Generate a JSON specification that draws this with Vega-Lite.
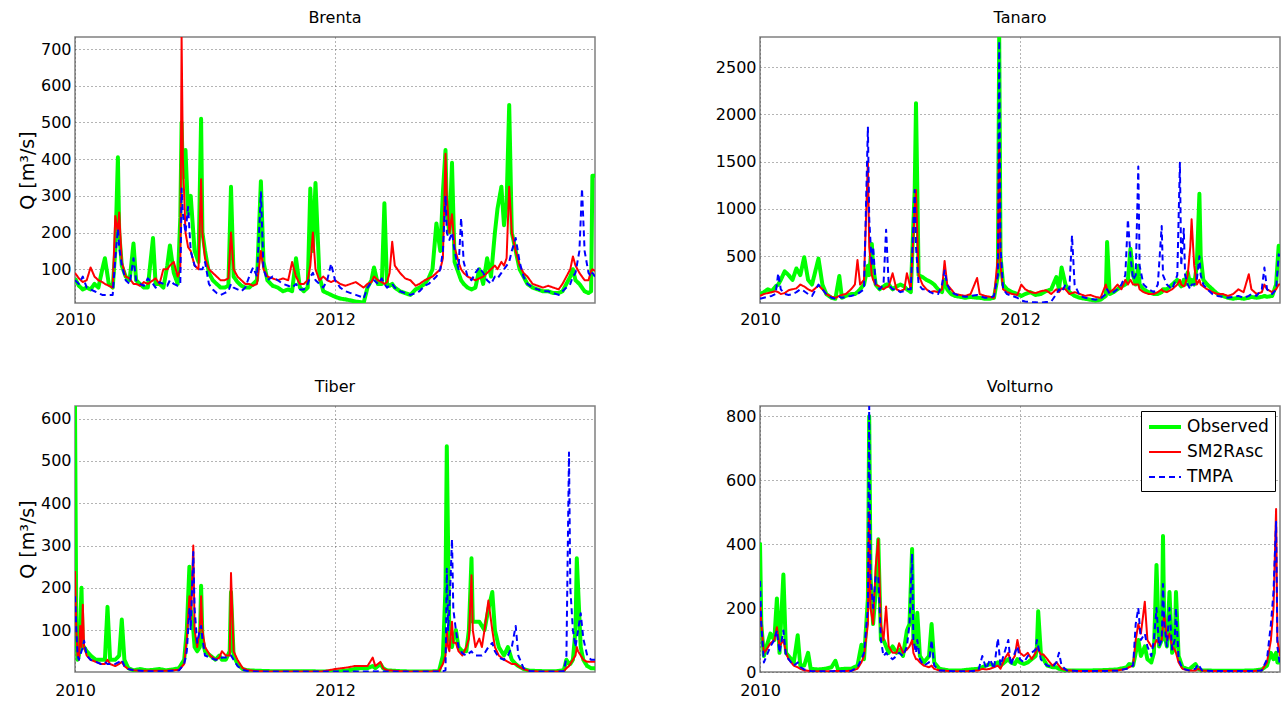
{
  "$schema": "https://vega.github.io/schema/vega-lite/v6.json",
  "background": "white",
  "padding": {"left": 17, "top": 9, "right": 4, "bottom": 5},
  "columns": 2,
  "bounds": "flush",
  "spacing": {"row": 103, "column": 165},
  "resolve": {
    "scale": {"color": "independent", "strokeDash": "independent", "strokeWidth": "independent"},
    "legend": {"color": "independent", "strokeDash": "independent", "strokeWidth": "independent"}
  },
  "config": {
    "font": "DejaVu Sans",
    "view": {"stroke": "#808080", "strokeWidth": 1.5},
    "axis": {
      "labelFont": "DejaVu Sans", "labelFontSize": 16, "labelColor": "#000000",
      "domain": false, "ticks": false, "labelPadding": 4,
      "grid": true, "gridColor": "#444444", "gridDash": [1, 3], "gridOpacity": 0.8, "gridWidth": 1,
      "titleFont": "DejaVu Sans", "titleFontSize": 19, "titleFontWeight": "normal", "titleColor": "#000000", "titlePadding": 3
    },
    "axisX": {"labelFlush": false, "labelPadding": 8},
    "title": {"font": "DejaVu Sans", "fontSize": 16, "fontWeight": "normal", "color": "#000000", "anchor": "middle", "offset": 11},
    "legend": {
      "orient": "top-right", "offset": 5, "strokeColor": "#000000", "fillColor": "#ffffff", "padding": 6,
      "labelFont": "DejaVu Sans", "labelFontSize": 17, "labelColor": "#000000",
      "symbolType": "M-2,0H2", "symbolSize": 256, "symbolOffset": 8,
      "rowPadding": 8, "labelOffset": 12, "titlePadding": 0
    }
  },
  "datasets": {
    "brenta": [
      {"t":2010.00,"obs":75,"sm2r":90,"tmpa":70},{"t":2010.03,"obs":55,"sm2r":75,"tmpa":60},{"t":2010.06,"obs":45,"sm2r":65,"tmpa":80},{"t":2010.09,"obs":50,"sm2r":70,"tmpa":50},{"t":2010.12,"obs":45,"sm2r":105,"tmpa":45},{"t":2010.15,"obs":60,"sm2r":80,"tmpa":40},{"t":2010.18,"obs":50,"sm2r":70,"tmpa":35},{"t":2010.21,"obs":100,"sm2r":65,"tmpa":30},{"t":2010.23,"obs":130,"sm2r":60,"tmpa":30},{"t":2010.26,"obs":60,"sm2r":55,"tmpa":30},{"t":2010.29,"obs":50,"sm2r":50,"tmpa":30},{"t":2010.31,"obs":150,"sm2r":245,"tmpa":130},{"t":2010.33,"obs":405,"sm2r":200,"tmpa":210},{"t":2010.34,"obs":200,"sm2r":255,"tmpa":160},{"t":2010.36,"obs":110,"sm2r":120,"tmpa":110},{"t":2010.39,"obs":80,"sm2r":80,"tmpa":70},{"t":2010.42,"obs":70,"sm2r":75,"tmpa":60},{"t":2010.45,"obs":170,"sm2r":60,"tmpa":130},{"t":2010.47,"obs":70,"sm2r":60,"tmpa":70},{"t":2010.50,"obs":60,"sm2r":55,"tmpa":60},{"t":2010.53,"obs":50,"sm2r":65,"tmpa":55},{"t":2010.56,"obs":50,"sm2r":60,"tmpa":75},{"t":2010.60,"obs":185,"sm2r":70,"tmpa":60},{"t":2010.62,"obs":60,"sm2r":75,"tmpa":50},{"t":2010.65,"obs":60,"sm2r":60,"tmpa":65},{"t":2010.68,"obs":50,"sm2r":100,"tmpa":60},{"t":2010.71,"obs":110,"sm2r":100,"tmpa":55},{"t":2010.73,"obs":165,"sm2r":110,"tmpa":70},{"t":2010.76,"obs":90,"sm2r":120,"tmpa":60},{"t":2010.79,"obs":60,"sm2r":80,"tmpa":55},{"t":2010.81,"obs":240,"sm2r":100,"tmpa":60},{"t":2010.82,"obs":500,"sm2r":733,"tmpa":320},{"t":2010.83,"obs":350,"sm2r":400,"tmpa":250},{"t":2010.85,"obs":425,"sm2r":200,"tmpa":200},{"t":2010.87,"obs":250,"sm2r":160,"tmpa":270},{"t":2010.89,"obs":300,"sm2r":150,"tmpa":150},{"t":2010.92,"obs":150,"sm2r":110,"tmpa":110},{"t":2010.95,"obs":120,"sm2r":100,"tmpa":100},{"t":2010.97,"obs":510,"sm2r":345,"tmpa":100},{"t":2010.98,"obs":200,"sm2r":200,"tmpa":100},{"t":2011.00,"obs":150,"sm2r":130,"tmpa":120},{"t":2011.03,"obs":90,"sm2r":100,"tmpa":60},{"t":2011.06,"obs":70,"sm2r":90,"tmpa":45},{"t":2011.09,"obs":60,"sm2r":80,"tmpa":35},{"t":2011.12,"obs":50,"sm2r":70,"tmpa":30},{"t":2011.15,"obs":50,"sm2r":70,"tmpa":35},{"t":2011.18,"obs":55,"sm2r":75,"tmpa":40},{"t":2011.20,"obs":325,"sm2r":200,"tmpa":60},{"t":2011.22,"obs":80,"sm2r":100,"tmpa":50},{"t":2011.25,"obs":65,"sm2r":80,"tmpa":45},{"t":2011.28,"obs":55,"sm2r":70,"tmpa":40},{"t":2011.31,"obs":50,"sm2r":60,"tmpa":50},{"t":2011.34,"obs":50,"sm2r":60,"tmpa":80},{"t":2011.37,"obs":60,"sm2r":55,"tmpa":105},{"t":2011.40,"obs":70,"sm2r":60,"tmpa":80},{"t":2011.43,"obs":340,"sm2r":150,"tmpa":310},{"t":2011.45,"obs":120,"sm2r":100,"tmpa":100},{"t":2011.48,"obs":70,"sm2r":80,"tmpa":70},{"t":2011.52,"obs":55,"sm2r":75,"tmpa":80},{"t":2011.56,"obs":50,"sm2r":70,"tmpa":70},{"t":2011.60,"obs":40,"sm2r":75,"tmpa":60},{"t":2011.64,"obs":45,"sm2r":70,"tmpa":55},{"t":2011.67,"obs":40,"sm2r":120,"tmpa":50},{"t":2011.70,"obs":130,"sm2r":80,"tmpa":60},{"t":2011.73,"obs":50,"sm2r":60,"tmpa":45},{"t":2011.76,"obs":40,"sm2r":60,"tmpa":45},{"t":2011.79,"obs":50,"sm2r":70,"tmpa":60},{"t":2011.81,"obs":320,"sm2r":110,"tmpa":80},{"t":2011.83,"obs":150,"sm2r":200,"tmpa":90},{"t":2011.85,"obs":335,"sm2r":100,"tmpa":70},{"t":2011.88,"obs":80,"sm2r":70,"tmpa":60},{"t":2011.91,"obs":40,"sm2r":80,"tmpa":50},{"t":2011.94,"obs":35,"sm2r":70,"tmpa":70},{"t":2011.97,"obs":30,"sm2r":65,"tmpa":115},{"t":2012.00,"obs":25,"sm2r":70,"tmpa":70},{"t":2012.04,"obs":20,"sm2r":60,"tmpa":50},{"t":2012.08,"obs":18,"sm2r":55,"tmpa":40},{"t":2012.12,"obs":15,"sm2r":60,"tmpa":35},{"t":2012.16,"obs":12,"sm2r":65,"tmpa":30},{"t":2012.20,"obs":10,"sm2r":55,"tmpa":25},{"t":2012.22,"obs":8,"sm2r":50,"tmpa":20},{"t":2012.25,"obs":50,"sm2r":60,"tmpa":50},{"t":2012.28,"obs":70,"sm2r":65,"tmpa":65},{"t":2012.30,"obs":105,"sm2r":80,"tmpa":70},{"t":2012.33,"obs":60,"sm2r":70,"tmpa":60},{"t":2012.36,"obs":60,"sm2r":65,"tmpa":75},{"t":2012.38,"obs":280,"sm2r":60,"tmpa":60},{"t":2012.40,"obs":60,"sm2r":65,"tmpa":50},{"t":2012.42,"obs":55,"sm2r":90,"tmpa":55},{"t":2012.44,"obs":60,"sm2r":175,"tmpa":60},{"t":2012.46,"obs":50,"sm2r":110,"tmpa":50},{"t":2012.50,"obs":40,"sm2r":90,"tmpa":40},{"t":2012.54,"obs":35,"sm2r":75,"tmpa":35},{"t":2012.58,"obs":30,"sm2r":70,"tmpa":30},{"t":2012.62,"obs":45,"sm2r":55,"tmpa":35},{"t":2012.65,"obs":50,"sm2r":60,"tmpa":40},{"t":2012.69,"obs":60,"sm2r":70,"tmpa":55},{"t":2012.72,"obs":75,"sm2r":75,"tmpa":60},{"t":2012.75,"obs":100,"sm2r":80,"tmpa":70},{"t":2012.78,"obs":225,"sm2r":90,"tmpa":80},{"t":2012.81,"obs":150,"sm2r":100,"tmpa":100},{"t":2012.83,"obs":310,"sm2r":130,"tmpa":150},{"t":2012.85,"obs":425,"sm2r":415,"tmpa":300},{"t":2012.86,"obs":250,"sm2r":300,"tmpa":200},{"t":2012.88,"obs":200,"sm2r":200,"tmpa":180},{"t":2012.90,"obs":390,"sm2r":250,"tmpa":200},{"t":2012.92,"obs":120,"sm2r":160,"tmpa":150},{"t":2012.95,"obs":90,"sm2r":120,"tmpa":100},{"t":2012.97,"obs":70,"sm2r":100,"tmpa":240},{"t":2012.99,"obs":60,"sm2r":90,"tmpa":120},{"t":2013.02,"obs":50,"sm2r":80,"tmpa":80},{"t":2013.05,"obs":45,"sm2r":75,"tmpa":70},{"t":2013.08,"obs":50,"sm2r":70,"tmpa":90},{"t":2013.11,"obs":100,"sm2r":75,"tmpa":105},{"t":2013.14,"obs":60,"sm2r":80,"tmpa":90},{"t":2013.17,"obs":130,"sm2r":90,"tmpa":70},{"t":2013.20,"obs":80,"sm2r":100,"tmpa":60},{"t":2013.23,"obs":200,"sm2r":110,"tmpa":80},{"t":2013.25,"obs":265,"sm2r":100,"tmpa":75},{"t":2013.28,"obs":325,"sm2r":120,"tmpa":90},{"t":2013.30,"obs":220,"sm2r":110,"tmpa":100},{"t":2013.32,"obs":280,"sm2r":130,"tmpa":110},{"t":2013.34,"obs":548,"sm2r":325,"tmpa":120},{"t":2013.36,"obs":200,"sm2r":200,"tmpa":150},{"t":2013.39,"obs":150,"sm2r":150,"tmpa":185},{"t":2013.42,"obs":100,"sm2r":110,"tmpa":120},{"t":2013.45,"obs":80,"sm2r":90,"tmpa":80},{"t":2013.48,"obs":60,"sm2r":80,"tmpa":60},{"t":2013.52,"obs":50,"sm2r":60,"tmpa":50},{"t":2013.56,"obs":45,"sm2r":55,"tmpa":45},{"t":2013.60,"obs":40,"sm2r":50,"tmpa":40},{"t":2013.64,"obs":40,"sm2r":55,"tmpa":40},{"t":2013.68,"obs":35,"sm2r":50,"tmpa":35},{"t":2013.72,"obs":35,"sm2r":45,"tmpa":30},{"t":2013.75,"obs":40,"sm2r":60,"tmpa":40},{"t":2013.78,"obs":60,"sm2r":80,"tmpa":50},{"t":2013.81,"obs":80,"sm2r":100,"tmpa":60},{"t":2013.83,"obs":100,"sm2r":135,"tmpa":80},{"t":2013.85,"obs":70,"sm2r":110,"tmpa":90},{"t":2013.88,"obs":60,"sm2r":90,"tmpa":150},{"t":2013.90,"obs":50,"sm2r":80,"tmpa":320},{"t":2013.92,"obs":40,"sm2r":70,"tmpa":150},{"t":2013.95,"obs":35,"sm2r":70,"tmpa":90},{"t":2013.97,"obs":40,"sm2r":95,"tmpa":80},{"t":2013.98,"obs":355,"sm2r":100,"tmpa":90},{"t":2014.00,"obs":355,"sm2r":95,"tmpa":80}
    ],
    "tanaro": [
      {"t":2010.00,"obs":100,"sm2r":80,"tmpa":50},{"t":2010.03,"obs":120,"sm2r":100,"tmpa":60},{"t":2010.06,"obs":150,"sm2r":110,"tmpa":70},{"t":2010.09,"obs":130,"sm2r":120,"tmpa":80},{"t":2010.12,"obs":180,"sm2r":130,"tmpa":100},{"t":2010.14,"obs":200,"sm2r":120,"tmpa":320},{"t":2010.16,"obs":250,"sm2r":100,"tmpa":150},{"t":2010.19,"obs":340,"sm2r":110,"tmpa":100},{"t":2010.22,"obs":300,"sm2r":140,"tmpa":90},{"t":2010.25,"obs":250,"sm2r":150,"tmpa":100},{"t":2010.28,"obs":370,"sm2r":160,"tmpa":120},{"t":2010.31,"obs":300,"sm2r":200,"tmpa":150},{"t":2010.34,"obs":490,"sm2r":180,"tmpa":130},{"t":2010.37,"obs":250,"sm2r":150,"tmpa":100},{"t":2010.40,"obs":200,"sm2r":130,"tmpa":80},{"t":2010.45,"obs":475,"sm2r":190,"tmpa":200},{"t":2010.48,"obs":200,"sm2r":150,"tmpa":150},{"t":2010.51,"obs":100,"sm2r":100,"tmpa":100},{"t":2010.55,"obs":60,"sm2r":70,"tmpa":60},{"t":2010.58,"obs":50,"sm2r":60,"tmpa":50},{"t":2010.61,"obs":290,"sm2r":80,"tmpa":70},{"t":2010.63,"obs":60,"sm2r":90,"tmpa":60},{"t":2010.66,"obs":80,"sm2r":100,"tmpa":70},{"t":2010.70,"obs":100,"sm2r":150,"tmpa":80},{"t":2010.73,"obs":100,"sm2r":200,"tmpa":90},{"t":2010.75,"obs":120,"sm2r":460,"tmpa":100},{"t":2010.77,"obs":150,"sm2r":200,"tmpa":120},{"t":2010.80,"obs":200,"sm2r":250,"tmpa":150},{"t":2010.83,"obs":400,"sm2r":1500,"tmpa":1870},{"t":2010.84,"obs":300,"sm2r":600,"tmpa":900},{"t":2010.86,"obs":630,"sm2r":300,"tmpa":400},{"t":2010.87,"obs":400,"sm2r":250,"tmpa":600},{"t":2010.89,"obs":200,"sm2r":200,"tmpa":200},{"t":2010.92,"obs":150,"sm2r":180,"tmpa":150},{"t":2010.95,"obs":180,"sm2r":150,"tmpa":200},{"t":2010.97,"obs":200,"sm2r":170,"tmpa":780},{"t":2010.99,"obs":200,"sm2r":180,"tmpa":200},{"t":2011.02,"obs":150,"sm2r":320,"tmpa":150},{"t":2011.05,"obs":180,"sm2r":150,"tmpa":150},{"t":2011.08,"obs":200,"sm2r":130,"tmpa":120},{"t":2011.11,"obs":180,"sm2r":150,"tmpa":130},{"t":2011.13,"obs":150,"sm2r":320,"tmpa":150},{"t":2011.16,"obs":120,"sm2r":150,"tmpa":150},{"t":2011.19,"obs":1200,"sm2r":1000,"tmpa":1200},{"t":2011.20,"obs":2120,"sm2r":1200,"tmpa":600},{"t":2011.22,"obs":300,"sm2r":300,"tmpa":200},{"t":2011.25,"obs":280,"sm2r":200,"tmpa":150},{"t":2011.28,"obs":250,"sm2r":150,"tmpa":150},{"t":2011.31,"obs":230,"sm2r":120,"tmpa":120},{"t":2011.34,"obs":200,"sm2r":130,"tmpa":100},{"t":2011.37,"obs":150,"sm2r":120,"tmpa":100},{"t":2011.40,"obs":120,"sm2r":150,"tmpa":200},{"t":2011.42,"obs":250,"sm2r":450,"tmpa":350},{"t":2011.44,"obs":150,"sm2r":200,"tmpa":200},{"t":2011.47,"obs":100,"sm2r":150,"tmpa":120},{"t":2011.50,"obs":80,"sm2r":100,"tmpa":100},{"t":2011.54,"obs":70,"sm2r":90,"tmpa":80},{"t":2011.58,"obs":60,"sm2r":80,"tmpa":70},{"t":2011.62,"obs":70,"sm2r":100,"tmpa":80},{"t":2011.67,"obs":60,"sm2r":270,"tmpa":90},{"t":2011.69,"obs":60,"sm2r":100,"tmpa":80},{"t":2011.73,"obs":50,"sm2r":80,"tmpa":60},{"t":2011.77,"obs":50,"sm2r":70,"tmpa":60},{"t":2011.80,"obs":60,"sm2r":60,"tmpa":80},{"t":2011.83,"obs":300,"sm2r":500,"tmpa":300},{"t":2011.84,"obs":2820,"sm2r":1700,"tmpa":2780},{"t":2011.85,"obs":500,"sm2r":400,"tmpa":600},{"t":2011.87,"obs":200,"sm2r":150,"tmpa":150},{"t":2011.90,"obs":150,"sm2r":120,"tmpa":100},{"t":2011.94,"obs":120,"sm2r":100,"tmpa":80},{"t":2011.98,"obs":100,"sm2r":90,"tmpa":60},{"t":2012.01,"obs":80,"sm2r":200,"tmpa":30},{"t":2012.04,"obs":100,"sm2r":150,"tmpa":20},{"t":2012.08,"obs":120,"sm2r":120,"tmpa":15},{"t":2012.12,"obs":90,"sm2r":110,"tmpa":12},{"t":2012.16,"obs":100,"sm2r":130,"tmpa":10},{"t":2012.20,"obs":130,"sm2r":140,"tmpa":15},{"t":2012.24,"obs":150,"sm2r":100,"tmpa":20},{"t":2012.28,"obs":280,"sm2r":150,"tmpa":100},{"t":2012.30,"obs":150,"sm2r":120,"tmpa":150},{"t":2012.32,"obs":380,"sm2r":160,"tmpa":120},{"t":2012.35,"obs":200,"sm2r":150,"tmpa":200},{"t":2012.38,"obs":120,"sm2r":100,"tmpa":150},{"t":2012.40,"obs":100,"sm2r":110,"tmpa":720},{"t":2012.42,"obs":80,"sm2r":120,"tmpa":200},{"t":2012.46,"obs":60,"sm2r":100,"tmpa":80},{"t":2012.50,"obs":50,"sm2r":80,"tmpa":60},{"t":2012.54,"obs":40,"sm2r":90,"tmpa":50},{"t":2012.58,"obs":30,"sm2r":70,"tmpa":40},{"t":2012.62,"obs":40,"sm2r":60,"tmpa":50},{"t":2012.66,"obs":80,"sm2r":200,"tmpa":100},{"t":2012.67,"obs":650,"sm2r":150,"tmpa":150},{"t":2012.69,"obs":100,"sm2r":120,"tmpa":100},{"t":2012.72,"obs":120,"sm2r":150,"tmpa":120},{"t":2012.75,"obs":150,"sm2r":200,"tmpa":150},{"t":2012.78,"obs":180,"sm2r":150,"tmpa":200},{"t":2012.81,"obs":200,"sm2r":250,"tmpa":300},{"t":2012.83,"obs":250,"sm2r":200,"tmpa":890},{"t":2012.85,"obs":580,"sm2r":250,"tmpa":500},{"t":2012.87,"obs":300,"sm2r":200,"tmpa":250},{"t":2012.89,"obs":200,"sm2r":200,"tmpa":300},{"t":2012.91,"obs":400,"sm2r":200,"tmpa":1450},{"t":2012.92,"obs":200,"sm2r":150,"tmpa":400},{"t":2012.95,"obs":150,"sm2r":120,"tmpa":200},{"t":2012.99,"obs":120,"sm2r":100,"tmpa":150},{"t":2013.03,"obs":100,"sm2r":100,"tmpa":120},{"t":2013.06,"obs":100,"sm2r":120,"tmpa":200},{"t":2013.09,"obs":120,"sm2r":150,"tmpa":820},{"t":2013.10,"obs":150,"sm2r":130,"tmpa":300},{"t":2013.13,"obs":150,"sm2r":120,"tmpa":200},{"t":2013.17,"obs":200,"sm2r":150,"tmpa":150},{"t":2013.21,"obs":250,"sm2r":200,"tmpa":300},{"t":2013.23,"obs":200,"sm2r":250,"tmpa":1490},{"t":2013.24,"obs":180,"sm2r":200,"tmpa":400},{"t":2013.26,"obs":250,"sm2r":180,"tmpa":790},{"t":2013.27,"obs":200,"sm2r":200,"tmpa":300},{"t":2013.29,"obs":330,"sm2r":300,"tmpa":200},{"t":2013.31,"obs":200,"sm2r":600,"tmpa":150},{"t":2013.32,"obs":250,"sm2r":890,"tmpa":200},{"t":2013.34,"obs":200,"sm2r":400,"tmpa":200},{"t":2013.36,"obs":400,"sm2r":200,"tmpa":250},{"t":2013.38,"obs":1160,"sm2r":250,"tmpa":500},{"t":2013.39,"obs":500,"sm2r":200,"tmpa":300},{"t":2013.41,"obs":250,"sm2r":180,"tmpa":200},{"t":2013.44,"obs":200,"sm2r":150,"tmpa":150},{"t":2013.48,"obs":150,"sm2r":120,"tmpa":100},{"t":2013.52,"obs":100,"sm2r":100,"tmpa":80},{"t":2013.56,"obs":80,"sm2r":100,"tmpa":70},{"t":2013.60,"obs":60,"sm2r":80,"tmpa":60},{"t":2013.64,"obs":50,"sm2r":100,"tmpa":70},{"t":2013.68,"obs":60,"sm2r":150,"tmpa":80},{"t":2013.72,"obs":50,"sm2r":120,"tmpa":60},{"t":2013.76,"obs":60,"sm2r":310,"tmpa":80},{"t":2013.78,"obs":70,"sm2r":150,"tmpa":100},{"t":2013.82,"obs":60,"sm2r":100,"tmpa":80},{"t":2013.86,"obs":70,"sm2r":120,"tmpa":150},{"t":2013.88,"obs":80,"sm2r":200,"tmpa":380},{"t":2013.90,"obs":70,"sm2r":150,"tmpa":150},{"t":2013.94,"obs":80,"sm2r":120,"tmpa":100},{"t":2013.97,"obs":200,"sm2r":150,"tmpa":150},{"t":2013.99,"obs":610,"sm2r":200,"tmpa":520},{"t":2014.00,"obs":600,"sm2r":200,"tmpa":500}
    ],
    "tiber": [
      {"t":2010.00,"obs":630,"sm2r":240,"tmpa":180},{"t":2010.01,"obs":100,"sm2r":100,"tmpa":100},{"t":2010.02,"obs":30,"sm2r":40,"tmpa":40},{"t":2010.03,"obs":40,"sm2r":30,"tmpa":30},{"t":2010.04,"obs":110,"sm2r":110,"tmpa":40},{"t":2010.05,"obs":200,"sm2r":60,"tmpa":50},{"t":2010.06,"obs":60,"sm2r":160,"tmpa":60},{"t":2010.07,"obs":60,"sm2r":60,"tmpa":75},{"t":2010.09,"obs":50,"sm2r":40,"tmpa":40},{"t":2010.12,"obs":40,"sm2r":30,"tmpa":30},{"t":2010.16,"obs":30,"sm2r":25,"tmpa":25},{"t":2010.20,"obs":30,"sm2r":20,"tmpa":20},{"t":2010.23,"obs":30,"sm2r":20,"tmpa":25},{"t":2010.25,"obs":155,"sm2r":30,"tmpa":20},{"t":2010.27,"obs":30,"sm2r":20,"tmpa":20},{"t":2010.31,"obs":30,"sm2r":15,"tmpa":20},{"t":2010.34,"obs":40,"sm2r":20,"tmpa":25},{"t":2010.36,"obs":125,"sm2r":25,"tmpa":30},{"t":2010.38,"obs":30,"sm2r":15,"tmpa":15},{"t":2010.41,"obs":10,"sm2r":8,"tmpa":8},{"t":2010.45,"obs":5,"sm2r":5,"tmpa":5},{"t":2010.50,"obs":8,"sm2r":4,"tmpa":4},{"t":2010.55,"obs":5,"sm2r":4,"tmpa":3},{"t":2010.60,"obs":6,"sm2r":4,"tmpa":3},{"t":2010.65,"obs":8,"sm2r":4,"tmpa":3},{"t":2010.70,"obs":5,"sm2r":4,"tmpa":3},{"t":2010.75,"obs":7,"sm2r":5,"tmpa":4},{"t":2010.80,"obs":10,"sm2r":6,"tmpa":5},{"t":2010.84,"obs":30,"sm2r":20,"tmpa":20},{"t":2010.86,"obs":100,"sm2r":80,"tmpa":50},{"t":2010.88,"obs":250,"sm2r":180,"tmpa":150},{"t":2010.89,"obs":150,"sm2r":120,"tmpa":100},{"t":2010.91,"obs":100,"sm2r":300,"tmpa":285},{"t":2010.92,"obs":60,"sm2r":100,"tmpa":150},{"t":2010.94,"obs":50,"sm2r":60,"tmpa":70},{"t":2010.96,"obs":60,"sm2r":100,"tmpa":100},{"t":2010.97,"obs":205,"sm2r":180,"tmpa":110},{"t":2010.98,"obs":80,"sm2r":100,"tmpa":80},{"t":2011.00,"obs":50,"sm2r":60,"tmpa":40},{"t":2011.04,"obs":40,"sm2r":40,"tmpa":35},{"t":2011.08,"obs":30,"sm2r":30,"tmpa":30},{"t":2011.11,"obs":40,"sm2r":35,"tmpa":30},{"t":2011.13,"obs":30,"sm2r":50,"tmpa":35},{"t":2011.16,"obs":30,"sm2r":40,"tmpa":35},{"t":2011.19,"obs":50,"sm2r":40,"tmpa":40},{"t":2011.20,"obs":190,"sm2r":235,"tmpa":40},{"t":2011.22,"obs":40,"sm2r":50,"tmpa":30},{"t":2011.25,"obs":20,"sm2r":30,"tmpa":15},{"t":2011.29,"obs":8,"sm2r":10,"tmpa":6},{"t":2011.33,"obs":5,"sm2r":5,"tmpa":3},{"t":2011.40,"obs":4,"sm2r":3,"tmpa":2},{"t":2011.50,"obs":3,"sm2r":2,"tmpa":2},{"t":2011.60,"obs":3,"sm2r":2,"tmpa":2},{"t":2011.70,"obs":3,"sm2r":2,"tmpa":2},{"t":2011.80,"obs":3,"sm2r":2,"tmpa":2},{"t":2011.90,"obs":2,"sm2r":2,"tmpa":2},{"t":2012.00,"obs":2,"sm2r":8,"tmpa":2},{"t":2012.05,"obs":3,"sm2r":10,"tmpa":2},{"t":2012.10,"obs":5,"sm2r":12,"tmpa":2},{"t":2012.15,"obs":8,"sm2r":15,"tmpa":2},{"t":2012.20,"obs":10,"sm2r":15,"tmpa":2},{"t":2012.25,"obs":10,"sm2r":15,"tmpa":2},{"t":2012.29,"obs":15,"sm2r":35,"tmpa":3},{"t":2012.31,"obs":10,"sm2r":15,"tmpa":2},{"t":2012.35,"obs":20,"sm2r":25,"tmpa":3},{"t":2012.37,"obs":10,"sm2r":10,"tmpa":2},{"t":2012.40,"obs":5,"sm2r":5,"tmpa":2},{"t":2012.50,"obs":3,"sm2r":3,"tmpa":2},{"t":2012.60,"obs":2,"sm2r":2,"tmpa":2},{"t":2012.70,"obs":2,"sm2r":2,"tmpa":2},{"t":2012.80,"obs":3,"sm2r":3,"tmpa":2},{"t":2012.83,"obs":40,"sm2r":20,"tmpa":3},{"t":2012.85,"obs":200,"sm2r":40,"tmpa":5},{"t":2012.86,"obs":535,"sm2r":100,"tmpa":245},{"t":2012.87,"obs":300,"sm2r":60,"tmpa":100},{"t":2012.88,"obs":80,"sm2r":50,"tmpa":150},{"t":2012.90,"obs":60,"sm2r":120,"tmpa":315},{"t":2012.91,"obs":80,"sm2r":70,"tmpa":150},{"t":2012.93,"obs":100,"sm2r":70,"tmpa":100},{"t":2012.95,"obs":60,"sm2r":50,"tmpa":60},{"t":2012.98,"obs":50,"sm2r":40,"tmpa":45},{"t":2013.01,"obs":50,"sm2r":60,"tmpa":40},{"t":2013.03,"obs":100,"sm2r":80,"tmpa":45},{"t":2013.05,"obs":270,"sm2r":230,"tmpa":50},{"t":2013.06,"obs":120,"sm2r":100,"tmpa":45},{"t":2013.08,"obs":120,"sm2r":60,"tmpa":40},{"t":2013.11,"obs":120,"sm2r":80,"tmpa":40},{"t":2013.13,"obs":110,"sm2r":60,"tmpa":40},{"t":2013.15,"obs":100,"sm2r":100,"tmpa":45},{"t":2013.18,"obs":150,"sm2r":170,"tmpa":60},{"t":2013.21,"obs":190,"sm2r":100,"tmpa":70},{"t":2013.23,"obs":100,"sm2r":60,"tmpa":50},{"t":2013.26,"obs":60,"sm2r":40,"tmpa":35},{"t":2013.30,"obs":40,"sm2r":30,"tmpa":30},{"t":2013.33,"obs":60,"sm2r":25,"tmpa":40},{"t":2013.36,"obs":30,"sm2r":20,"tmpa":60},{"t":2013.39,"obs":20,"sm2r":20,"tmpa":110},{"t":2013.41,"obs":15,"sm2r":15,"tmpa":40},{"t":2013.45,"obs":8,"sm2r":8,"tmpa":10},{"t":2013.50,"obs":4,"sm2r":3,"tmpa":3},{"t":2013.60,"obs":3,"sm2r":2,"tmpa":2},{"t":2013.70,"obs":3,"sm2r":2,"tmpa":2},{"t":2013.76,"obs":5,"sm2r":3,"tmpa":3},{"t":2013.78,"obs":30,"sm2r":10,"tmpa":35},{"t":2013.80,"obs":20,"sm2r":15,"tmpa":520},{"t":2013.81,"obs":20,"sm2r":20,"tmpa":200},{"t":2013.83,"obs":30,"sm2r":30,"tmpa":100},{"t":2013.85,"obs":100,"sm2r":40,"tmpa":60},{"t":2013.86,"obs":270,"sm2r":60,"tmpa":80},{"t":2013.87,"obs":200,"sm2r":50,"tmpa":100},{"t":2013.89,"obs":60,"sm2r":40,"tmpa":140},{"t":2013.91,"obs":30,"sm2r":30,"tmpa":80},{"t":2013.94,"obs":15,"sm2r":25,"tmpa":40},{"t":2013.97,"obs":10,"sm2r":25,"tmpa":30},{"t":2014.00,"obs":10,"sm2r":25,"tmpa":30}
    ],
    "volturno": [
      {"t":2010.00,"obs":405,"sm2r":220,"tmpa":285},{"t":2010.01,"obs":150,"sm2r":150,"tmpa":150},{"t":2010.03,"obs":50,"sm2r":60,"tmpa":30},{"t":2010.05,"obs":80,"sm2r":70,"tmpa":50},{"t":2010.08,"obs":120,"sm2r":90,"tmpa":80},{"t":2010.11,"obs":100,"sm2r":100,"tmpa":100},{"t":2010.13,"obs":230,"sm2r":140,"tmpa":130},{"t":2010.15,"obs":60,"sm2r":80,"tmpa":60},{"t":2010.18,"obs":305,"sm2r":100,"tmpa":130},{"t":2010.20,"obs":60,"sm2r":60,"tmpa":50},{"t":2010.22,"obs":50,"sm2r":40,"tmpa":40},{"t":2010.26,"obs":30,"sm2r":20,"tmpa":20},{"t":2010.29,"obs":115,"sm2r":15,"tmpa":30},{"t":2010.31,"obs":20,"sm2r":10,"tmpa":15},{"t":2010.34,"obs":20,"sm2r":5,"tmpa":8},{"t":2010.37,"obs":60,"sm2r":4,"tmpa":5},{"t":2010.39,"obs":10,"sm2r":3,"tmpa":3},{"t":2010.45,"obs":8,"sm2r":2,"tmpa":2},{"t":2010.50,"obs":10,"sm2r":2,"tmpa":2},{"t":2010.55,"obs":15,"sm2r":2,"tmpa":2},{"t":2010.58,"obs":35,"sm2r":3,"tmpa":3},{"t":2010.60,"obs":8,"sm2r":3,"tmpa":2},{"t":2010.65,"obs":10,"sm2r":3,"tmpa":3},{"t":2010.70,"obs":10,"sm2r":4,"tmpa":3},{"t":2010.75,"obs":20,"sm2r":10,"tmpa":15},{"t":2010.78,"obs":85,"sm2r":30,"tmpa":40},{"t":2010.80,"obs":40,"sm2r":50,"tmpa":60},{"t":2010.83,"obs":230,"sm2r":150,"tmpa":200},{"t":2010.84,"obs":800,"sm2r":500,"tmpa":832},{"t":2010.85,"obs":300,"sm2r":200,"tmpa":300},{"t":2010.87,"obs":150,"sm2r":150,"tmpa":200},{"t":2010.89,"obs":250,"sm2r":330,"tmpa":300},{"t":2010.91,"obs":415,"sm2r":415,"tmpa":300},{"t":2010.93,"obs":100,"sm2r":150,"tmpa":100},{"t":2010.95,"obs":100,"sm2r":100,"tmpa":50},{"t":2010.97,"obs":80,"sm2r":205,"tmpa":60},{"t":2010.99,"obs":60,"sm2r":80,"tmpa":50},{"t":2011.02,"obs":80,"sm2r":60,"tmpa":40},{"t":2011.05,"obs":60,"sm2r":60,"tmpa":50},{"t":2011.07,"obs":70,"sm2r":90,"tmpa":60},{"t":2011.10,"obs":50,"sm2r":60,"tmpa":50},{"t":2011.13,"obs":130,"sm2r":70,"tmpa":80},{"t":2011.15,"obs":150,"sm2r":80,"tmpa":150},{"t":2011.17,"obs":385,"sm2r":100,"tmpa":370},{"t":2011.18,"obs":100,"sm2r":60,"tmpa":100},{"t":2011.20,"obs":80,"sm2r":40,"tmpa":60},{"t":2011.21,"obs":185,"sm2r":40,"tmpa":100},{"t":2011.23,"obs":50,"sm2r":30,"tmpa":40},{"t":2011.26,"obs":30,"sm2r":20,"tmpa":20},{"t":2011.30,"obs":50,"sm2r":15,"tmpa":30},{"t":2011.32,"obs":150,"sm2r":20,"tmpa":100},{"t":2011.34,"obs":30,"sm2r":10,"tmpa":20},{"t":2011.38,"obs":10,"sm2r":5,"tmpa":5},{"t":2011.45,"obs":5,"sm2r":3,"tmpa":3},{"t":2011.55,"obs":5,"sm2r":2,"tmpa":2},{"t":2011.62,"obs":8,"sm2r":3,"tmpa":2},{"t":2011.68,"obs":10,"sm2r":5,"tmpa":5},{"t":2011.71,"obs":15,"sm2r":10,"tmpa":50},{"t":2011.74,"obs":20,"sm2r":8,"tmpa":10},{"t":2011.77,"obs":25,"sm2r":10,"tmpa":40},{"t":2011.80,"obs":20,"sm2r":15,"tmpa":10},{"t":2011.83,"obs":30,"sm2r":20,"tmpa":105},{"t":2011.85,"obs":20,"sm2r":10,"tmpa":20},{"t":2011.88,"obs":30,"sm2r":40,"tmpa":60},{"t":2011.91,"obs":40,"sm2r":60,"tmpa":100},{"t":2011.93,"obs":30,"sm2r":30,"tmpa":20},{"t":2011.96,"obs":25,"sm2r":50,"tmpa":60},{"t":2011.98,"obs":40,"sm2r":100,"tmpa":80},{"t":2012.00,"obs":30,"sm2r":60,"tmpa":40},{"t":2012.03,"obs":25,"sm2r":50,"tmpa":30},{"t":2012.06,"obs":30,"sm2r":60,"tmpa":50},{"t":2012.09,"obs":40,"sm2r":40,"tmpa":60},{"t":2012.12,"obs":50,"sm2r":60,"tmpa":70},{"t":2012.13,"obs":80,"sm2r":75,"tmpa":100},{"t":2012.14,"obs":190,"sm2r":70,"tmpa":80},{"t":2012.16,"obs":60,"sm2r":55,"tmpa":40},{"t":2012.18,"obs":40,"sm2r":55,"tmpa":30},{"t":2012.21,"obs":20,"sm2r":40,"tmpa":20},{"t":2012.25,"obs":15,"sm2r":20,"tmpa":15},{"t":2012.28,"obs":15,"sm2r":30,"tmpa":30},{"t":2012.30,"obs":10,"sm2r":20,"tmpa":60},{"t":2012.32,"obs":8,"sm2r":10,"tmpa":20},{"t":2012.36,"obs":5,"sm2r":5,"tmpa":5},{"t":2012.45,"obs":5,"sm2r":3,"tmpa":3},{"t":2012.55,"obs":5,"sm2r":3,"tmpa":3},{"t":2012.65,"obs":6,"sm2r":4,"tmpa":3},{"t":2012.75,"obs":8,"sm2r":5,"tmpa":4},{"t":2012.82,"obs":15,"sm2r":10,"tmpa":10},{"t":2012.84,"obs":25,"sm2r":15,"tmpa":15},{"t":2012.87,"obs":20,"sm2r":20,"tmpa":20},{"t":2012.89,"obs":60,"sm2r":100,"tmpa":150},{"t":2012.91,"obs":100,"sm2r":150,"tmpa":200},{"t":2012.93,"obs":50,"sm2r":120,"tmpa":100},{"t":2012.96,"obs":80,"sm2r":220,"tmpa":120},{"t":2012.98,"obs":40,"sm2r":100,"tmpa":80},{"t":2013.01,"obs":30,"sm2r":80,"tmpa":50},{"t":2013.03,"obs":60,"sm2r":80,"tmpa":100},{"t":2013.05,"obs":335,"sm2r":100,"tmpa":200},{"t":2013.07,"obs":80,"sm2r":90,"tmpa":80},{"t":2013.09,"obs":100,"sm2r":100,"tmpa":100},{"t":2013.10,"obs":425,"sm2r":150,"tmpa":275},{"t":2013.11,"obs":120,"sm2r":180,"tmpa":150},{"t":2013.13,"obs":80,"sm2r":100,"tmpa":80},{"t":2013.15,"obs":250,"sm2r":120,"tmpa":200},{"t":2013.17,"obs":60,"sm2r":80,"tmpa":70},{"t":2013.19,"obs":80,"sm2r":70,"tmpa":100},{"t":2013.20,"obs":250,"sm2r":60,"tmpa":200},{"t":2013.22,"obs":50,"sm2r":30,"tmpa":40},{"t":2013.25,"obs":15,"sm2r":10,"tmpa":10},{"t":2013.30,"obs":8,"sm2r":5,"tmpa":5},{"t":2013.35,"obs":25,"sm2r":5,"tmpa":10},{"t":2013.37,"obs":10,"sm2r":10,"tmpa":25},{"t":2013.40,"obs":5,"sm2r":4,"tmpa":5},{"t":2013.50,"obs":4,"sm2r":3,"tmpa":3},{"t":2013.60,"obs":4,"sm2r":3,"tmpa":3},{"t":2013.70,"obs":4,"sm2r":3,"tmpa":3},{"t":2013.80,"obs":5,"sm2r":3,"tmpa":3},{"t":2013.86,"obs":8,"sm2r":5,"tmpa":5},{"t":2013.90,"obs":20,"sm2r":30,"tmpa":40},{"t":2013.93,"obs":60,"sm2r":100,"tmpa":150},{"t":2013.95,"obs":40,"sm2r":200,"tmpa":250},{"t":2013.97,"obs":60,"sm2r":510,"tmpa":470},{"t":2013.98,"obs":30,"sm2r":100,"tmpa":80},{"t":2014.00,"obs":30,"sm2r":50,"tmpa":20}
    ]
  },
  "concat": [
    {
      "title": "Brenta",
      "width": 520, "height": 266,
      "data": {"name": "brenta"},
      "transform": [{"fold": ["obs", "sm2r", "tmpa"], "as": ["series", "q"]}],
      "mark": {"type": "line", "clip": true, "strokeJoin": "round"},
      "encoding": {
        "x": {"field": "t", "type": "quantitative", "scale": {"domain": [2010, 2014], "nice": false, "zero": false}, "axis": {"values": [2010, 2012], "format": "d", "title": null}},
        "y": {"field": "q", "type": "quantitative", "scale": {"domain": [8, 733], "nice": false, "zero": false}, "axis": {"values": [100, 200, 300, 400, 500, 600, 700], "title": "Q [m³/s]"}},
        "color": {"field": "series", "type": "nominal", "scale": {"domain": ["obs", "sm2r", "tmpa"], "range": ["#00ff00", "#ff0000", "#0000ff"]}, "legend": null},
        "strokeDash": {"field": "series", "type": "nominal", "scale": {"domain": ["obs", "sm2r", "tmpa"], "range": [[1, 0], [1, 0], [6, 4]]}, "legend": null},
        "strokeWidth": {"field": "series", "type": "nominal", "scale": {"type": "ordinal", "domain": ["obs", "sm2r", "tmpa"], "range": [4, 2, 2]}, "legend": null}
      }
    },
    {
      "title": "Tanaro",
      "width": 520, "height": 266,
      "data": {"name": "tanaro"},
      "transform": [{"fold": ["obs", "sm2r", "tmpa"], "as": ["series", "q"]}],
      "mark": {"type": "line", "clip": true, "strokeJoin": "round"},
      "encoding": {
        "x": {"field": "t", "type": "quantitative", "scale": {"domain": [2010, 2014], "nice": false, "zero": false}, "axis": {"values": [2010, 2012], "format": "d", "title": null}},
        "y": {"field": "q", "type": "quantitative", "scale": {"domain": [5, 2820], "nice": false, "zero": false}, "axis": {"values": [500, 1000, 1500, 2000, 2500], "format": "d", "title": null}},
        "color": {"field": "series", "type": "nominal", "scale": {"domain": ["obs", "sm2r", "tmpa"], "range": ["#00ff00", "#ff0000", "#0000ff"]}, "legend": null},
        "strokeDash": {"field": "series", "type": "nominal", "scale": {"domain": ["obs", "sm2r", "tmpa"], "range": [[1, 0], [1, 0], [6, 4]]}, "legend": null},
        "strokeWidth": {"field": "series", "type": "nominal", "scale": {"type": "ordinal", "domain": ["obs", "sm2r", "tmpa"], "range": [4, 2, 2]}, "legend": null}
      }
    },
    {
      "title": "Tiber",
      "width": 520, "height": 266,
      "data": {"name": "tiber"},
      "transform": [{"fold": ["obs", "sm2r", "tmpa"], "as": ["series", "q"]}],
      "mark": {"type": "line", "clip": true, "strokeJoin": "round"},
      "encoding": {
        "x": {"field": "t", "type": "quantitative", "scale": {"domain": [2010, 2014], "nice": false, "zero": false}, "axis": {"values": [2010, 2012], "format": "d", "title": null, "labelPadding": 10}},
        "y": {"field": "q", "type": "quantitative", "scale": {"domain": [1, 630], "nice": false, "zero": false}, "axis": {"values": [100, 200, 300, 400, 500, 600], "title": "Q [m³/s]"}},
        "color": {"field": "series", "type": "nominal", "scale": {"domain": ["obs", "sm2r", "tmpa"], "range": ["#00ff00", "#ff0000", "#0000ff"]}, "legend": null},
        "strokeDash": {"field": "series", "type": "nominal", "scale": {"domain": ["obs", "sm2r", "tmpa"], "range": [[1, 0], [1, 0], [6, 4]]}, "legend": null},
        "strokeWidth": {"field": "series", "type": "nominal", "scale": {"type": "ordinal", "domain": ["obs", "sm2r", "tmpa"], "range": [4, 2, 2]}, "legend": null}
      }
    },
    {
      "title": "Volturno",
      "width": 520, "height": 266,
      "data": {"name": "volturno"},
      "transform": [{"fold": ["obs", "sm2r", "tmpa"], "as": ["series", "q"]}],
      "mark": {"type": "line", "clip": true, "strokeJoin": "round"},
      "encoding": {
        "x": {"field": "t", "type": "quantitative", "scale": {"domain": [2010, 2014], "nice": false, "zero": false}, "axis": {"values": [2010, 2012], "format": "d", "title": null, "labelPadding": 10}},
        "y": {"field": "q", "type": "quantitative", "scale": {"domain": [0, 832], "nice": false, "zero": false}, "axis": {"values": [0, 200, 400, 600, 800], "title": null}},
        "color": {"field": "series", "type": "nominal", "scale": {"domain": ["obs", "sm2r", "tmpa"], "range": ["#00ff00", "#ff0000", "#0000ff"]},
          "legend": {"title": null, "labelExpr": "datum.value == 'obs' ? 'Observed' : datum.value == 'sm2r' ? 'SM2Rᴀꜱᴄ' : 'TMPA'"}},
        "strokeDash": {"field": "series", "type": "nominal", "scale": {"domain": ["obs", "sm2r", "tmpa"], "range": [[1, 0], [1, 0], [6, 4]]},
          "legend": {"title": null, "labelExpr": "datum.value == 'obs' ? 'Observed' : datum.value == 'sm2r' ? 'SM2Rᴀꜱᴄ' : 'TMPA'"}},
        "strokeWidth": {"field": "series", "type": "nominal", "scale": {"type": "ordinal", "domain": ["obs", "sm2r", "tmpa"], "range": [4, 2, 2]},
          "legend": {"title": null, "labelExpr": "datum.value == 'obs' ? 'Observed' : datum.value == 'sm2r' ? 'SM2Rᴀꜱᴄ' : 'TMPA'"}}
      }
    }
  ]
}
